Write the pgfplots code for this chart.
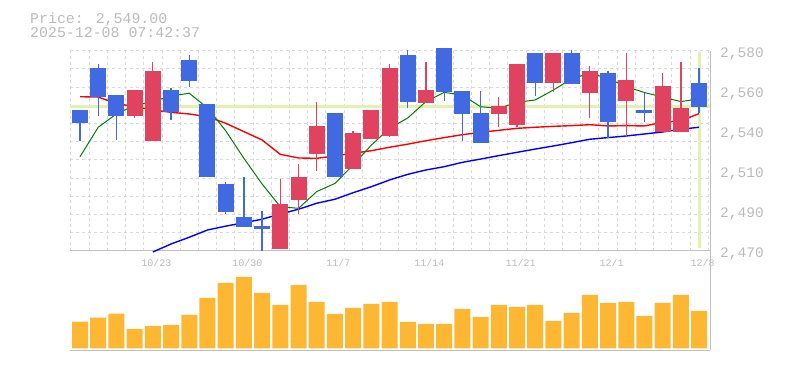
\documentclass[border=0pt]{standalone}
\usepackage{fontspec}
\setmainfont{Liberation Mono}
\usepackage{pgfplots}
\pgfplotsset{compat=1.18}
\usepackage{pgfplotstable}
\definecolor{cred}{HTML}{E0435F}
\definecolor{cblue}{HTML}{4169E1}
\definecolor{volc}{HTML}{FDB733}
\definecolor{bandc}{HTML}{E2F1AE}
\definecolor{gridc}{HTML}{D9D9D9}
\definecolor{borderc}{HTML}{C0C0C0}
\definecolor{txtc}{HTML}{BBBBBB}
\definecolor{ma5}{HTML}{008000}
\definecolor{ma25}{HTML}{FF0000}
\definecolor{ma75}{HTML}{0000FF}

% down candles (blue): x low bodybottom bodytop high
\pgfplotstableread{
x lo bb bt hi
0 2530.5 2540.4 2547.4 2547.4
1 2544.1 2554.4 2570.3 2572.7
2 2530.9 2544.1 2555.6 2555.6
5 2541.9 2546.5 2558.4 2559.3
6 2560.2 2563.5 2574.9 2577.6
7 2510.4 2510.4 2550.7 2550.7
8 2490.2 2491.5 2506.7 2507.8
9 2483.2 2483.2 2488.4 2510.7
10 2470.0 2482.1 2483.6 2492.0
14 2510.4 2510.4 2545.9 2545.9
18 2548.3 2551.6 2577.6 2580.4
20 2552.5 2557.1 2581.7 2581.7
21 2530.5 2545.2 2557.8 2557.8
22 2529.4 2529.4 2545.9 2557.8
25 2555.1 2562.4 2578.6 2578.6
27 2561.5 2561.5 2578.6 2580.4
29 2531.8 2540.6 2567.6 2568.8
31 2540.6 2545.6 2547.4 2556.6
34 2545.6 2549.0 2562.0 2570.3
}\bluec

% up candles (red)
\pgfplotstableread{
x lo bb bt hi
3 2543.2 2544.1 2558.4 2558.4
4 2530.5 2530.5 2568.8 2573.8
11 2470.9 2470.9 2495.7 2509.6
12 2490.2 2497.9 2510.7 2517.7
13 2514.0 2523.2 2538.6 2551.8
15 2515.1 2515.1 2534.6 2535.8
16 2531.3 2531.3 2547.4 2547.4
17 2532.4 2533.1 2570.5 2572.7
19 2551.4 2551.4 2558.4 2573.8
23 2537.9 2545.2 2549.6 2554.7
24 2537.9 2539.1 2572.7 2572.7
26 2557.5 2562.4 2578.6 2578.6
28 2543.2 2556.6 2568.8 2571.6
30 2533.3 2552.5 2563.9 2578.6
32 2535.5 2535.5 2560.6 2567.9
33 2535.5 2535.5 2548.7 2574.0
}\redc

% moving averages
\pgfplotstableread{
x g r b
0 2521.7 2554.7 nan
1 2537.9 2554.5 nan
2 2545.2 2551.0 nan
3 2550.0 2549.2 nan
4 2552.0 2547.4 2469.3
5 2555.1 2546.1 2473.7
6 2556.6 2545.2 2477.4
7 2548.5 2543.7 2481.4
8 2536.0 2540.1 2483.5
9 2520.8 2535.5 2485.4
10 2506.7 2530.9 2487.3
11 2494.2 2523.0 2490.2
12 2493.3 2521.0 2492.8
13 2502.5 2520.8 2496.1
14 2507.0 2522.1 2498.3
15 2517.1 2523.6 2501.9
16 2528.1 2525.0 2505.2
17 2537.3 2526.9 2508.9
18 2543.0 2528.6 2512.0
19 2552.0 2530.5 2514.4
20 2557.1 2532.2 2516.2
21 2555.6 2533.8 2518.6
22 2549.2 2535.1 2520.4
23 2548.3 2536.2 2522.3
24 2551.6 2537.3 2524.1
25 2552.9 2537.9 2525.9
26 2558.4 2538.4 2527.6
27 2564.5 2538.8 2529.4
28 2567.6 2539.3 2531.3
29 2564.8 2538.6 2532.2
30 2560.2 2538.8 2533.1
31 2557.0 2538.6 2534.2
32 2554.5 2540.6 2535.3
33 2552.0 2541.5 2536.8
34 2553.5 2545.4 2537.9
}\madata

% volume
\pgfplotstableread{
x v
0 26.7
1 30.7
2 34.7
3 19.3
4 22.3
5 23.3
6 33.3
7 50.3
8 65.3
9 71.3
10 55.3
11 43.3
12 63.3
13 46.3
14 34.3
15 40.3
16 44.3
17 46.3
18 26.3
19 24.3
20 24.3
21 39.3
22 31.3
23 43.3
24 41.3
25 43.3
26 27.3
27 35.3
28 53.3
29 45.3
30 46.3
31 32.3
32 45.3
33 53.3
34 37.3
}\voldata

\pgfplotsset{
  common/.style={
    scale only axis, width=640pt,
    xmin=-0.55, xmax=34.6,
    axis x line*=bottom, axis y line*=right,
    axis line style={draw=borderc, line width=1pt},
    major tick length=0pt, minor tick length=0pt,
    tick style={draw=none},
    minor xtick={-0.5,0.5,...,34.5},
    xminorgrids=true,
    minor grid style={draw=gridc, line width=0.9pt, dash pattern=on 3pt off 3pt},
    clip=false,
  },
  candle/.style 2 args={draw=none, mark=none,
    error bars/.cd, y dir=plus, y explicit, error mark=none,
    error bar style={draw=#1, line width=#2, solid}},
}

\begin{document}
\begin{tikzpicture}
\path[use as bounding box] (0pt,0pt) rectangle (785pt,370pt);
\node[anchor=base west, inner sep=0pt, text=txtc, font=\fontsize{14.9}{16}\selectfont] at (30pt,346.7pt) {Price: 2,549.00};
\node[anchor=base west, inner sep=0pt, text=txtc, font=\fontsize{14.9}{16}\selectfont] at (30pt,332.3pt) {2025-12-08 07:42:37};

% volume panel
\begin{axis}[common,
  at={(70pt,20pt)}, anchor=south west,
  height=99.3pt,
  ymin=-1.7, ymax=97.6,
  xtick=\empty, ytick=\empty,
]
\addplot[ybar, bar width=16pt, bar shift=0pt, fill=volc, draw=none] table[x=x, y=v] {\voldata};
\end{axis}

% price panel
\begin{axis}[common,
  at={(70pt,119.3pt)}, anchor=south west,
  height=200pt,
  ymin=2470, ymax=2580,
  minor ytick={2470,2480,...,2580},
  yminorgrids=true,
  xtick={4,9,14,19,24,29,34},
  xticklabels={10/23,10/30,11/7,11/14,11/21,12/1,12/8},
  xticklabel style={anchor=base, inner sep=0pt, yshift=-15.5pt, xshift=3.5pt, text=txtc, font=\fontsize{10}{12}\selectfont},
  ytick={2470,2492,2514,2536,2558,2580},
  yticklabels={{2,470},{2,490},{2,510},{2,540},{2,560},{2,580}},
  yticklabel style={anchor=base west, inner sep=0pt, xshift=10pt, yshift=-6.6pt, text=txtc, font=\fontsize{14.5}{16}\selectfont},
]
% current price band
\addplot[bandc, line width=3.5pt, forget plot] coordinates {(-0.55,2549.4) (34.6,2549.4)};
\addplot[bandc, line width=3pt, forget plot] coordinates {(34,2471.3) (34,2579.5)};
% moving averages
\addplot[ma75, line width=1.4pt, mark=none] table[x=x, y=b] {\madata};
\addplot[ma25, line width=1.4pt, mark=none] table[x=x, y=r] {\madata};
\addplot[ma5, line width=1pt, mark=none] table[x=x, y=g] {\madata};
% candles: wicks
\addplot[candle={cblue}{1.3pt}] table[x=x, y=lo, y error expr=\thisrow{hi}-\thisrow{lo}] {\bluec};
\addplot[candle={cred}{1.3pt}] table[x=x, y=lo, y error expr=\thisrow{hi}-\thisrow{lo}] {\redc};
% candles: bodies
\addplot[candle={cblue}{16pt}] table[x=x, y=bb, y error expr=\thisrow{bt}-\thisrow{bb}] {\bluec};
\addplot[candle={cred}{16pt}] table[x=x, y=bb, y error expr=\thisrow{bt}-\thisrow{bb}] {\redc};
\end{axis}
\end{tikzpicture}
\end{document}
